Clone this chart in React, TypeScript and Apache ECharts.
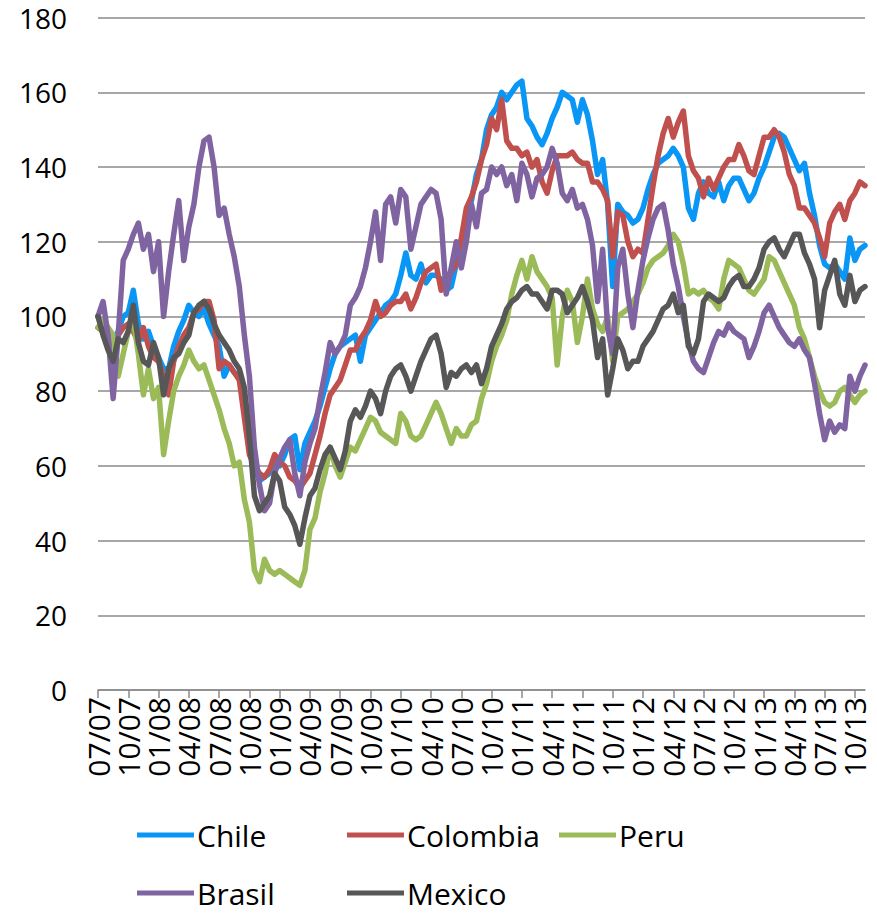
import React, { useEffect, useRef } from "react";
import * as echarts from "echarts";

// Semi-monthly sampling (1st and 16th of each month) from 2007-07-01 to 2013-11-01
const startYear = 2007;
const startMonth = 7;
const pointCount = 153;
const categories: string[] = Array.from({ length: pointCount }, (_, k) => {
  const m = startMonth - 1 + Math.floor(k / 2);
  const y = startYear + Math.floor(m / 12);
  const mo = (m % 12) + 1;
  const d = k % 2 === 0 ? 1 : 16;
  return `${y}-${String(mo).padStart(2, "0")}-${String(d).padStart(2, "0")}`;
});

const yTicks = { min: 0, max: 180, step: 20 };

const chile = [
  100, 97, 95, 93, 96, 100, 101, 107, 98, 94,
  96, 92, 89, 86, 86, 92, 96, 99, 103, 101,
  100, 102, 98, 95, 92, 84, 87, 85, 84, 79,
  69, 60, 56, 57, 58, 61, 60, 63, 67, 68,
  59, 66, 69, 72, 76, 81, 86, 90, 92, 93,
  94, 95, 88, 95, 97, 99, 101, 103, 104, 106,
  111, 117, 111, 110, 114, 109, 111, 111, 110, 107,
  108, 114, 120, 126, 131, 138, 142, 150, 154, 156,
  160, 158, 160, 162, 163, 153, 151, 148, 146, 149,
  153, 156, 160, 159, 158, 152, 158, 154, 147, 138,
  142, 130, 108, 130, 128, 127, 125, 126, 129, 134,
  138, 141, 142, 143, 145, 143, 140, 129, 126, 133,
  136, 133, 132, 136, 131, 135, 137, 137, 134, 131,
  133, 137, 140, 144, 148, 149, 148, 145, 142, 139,
  141, 133, 127, 119, 114, 113, 114, 112, 110, 121,
  115, 118, 119,
];

const colombia = [
  97, 96, 94, 92, 95, 97, 98, 96, 93, 97,
  92, 89, 88, 84, 79, 88, 92, 95, 97, 101,
  102, 104, 104, 99, 86, 88, 87, 85, 83, 73,
  63, 60, 58, 57, 59, 63, 61, 60, 57, 56,
  54, 56, 58, 63, 68, 74, 79, 81, 83, 87,
  91, 91, 94, 96, 99, 104, 100, 101, 103, 104,
  104, 106, 102, 105, 109, 112, 113, 114, 107, 110,
  112, 114, 121, 129, 132, 136, 142, 146, 153, 150,
  158, 147, 145, 145, 143, 144, 140, 142, 136, 133,
  139, 143, 143, 143, 144, 142, 141, 141, 136, 136,
  134, 131, 116, 128, 127, 120, 116, 118, 117, 126,
  135, 143, 149, 153, 148, 152, 155, 143, 139, 137,
  132, 137, 134, 137, 140, 142, 142, 146, 143, 139,
  138, 143, 148, 148, 150, 148, 144, 138, 135, 129,
  129, 127, 125, 121, 116, 125, 128, 130, 126, 131,
  133, 136, 135,
];

const peru = [
  97, 99, 97, 95, 84, 90, 96, 99, 90, 79,
  86, 78, 81, 63, 72, 80, 84, 87, 91, 88,
  86, 87, 83, 79, 75, 70, 66, 60, 61, 51,
  45, 32, 29, 35, 32, 31, 32, 31, 30, 29,
  28, 32, 43, 46, 53, 58, 65, 60, 57, 61,
  65, 64, 67, 70, 73, 72, 69, 68, 67, 66,
  74, 72, 68, 67, 68, 71, 74, 77, 74, 70,
  66, 70, 68, 68, 71, 72, 78, 82, 88, 92,
  95, 99, 106, 111, 115, 110, 116, 112, 110, 108,
  105, 87, 100, 107, 104, 93, 100, 110, 102, 98,
  96, 100, 88, 100, 101, 102, 104, 106, 109, 113,
  115, 116, 117, 119, 122, 120, 114, 106, 107, 106,
  107, 105, 104, 102, 110, 115, 114, 113, 110, 107,
  106, 108, 110, 116, 115, 112, 109, 106, 103, 97,
  94, 89, 84, 80, 77, 76, 77, 80, 81, 79,
  77, 79, 80,
];

const brasil = [
  100, 104, 95, 78, 95, 115, 118, 122, 125, 118,
  122, 112, 120, 100, 112, 122, 131, 115, 124, 130,
  140, 147, 148, 140, 127, 129, 122, 116, 108, 95,
  84, 65, 55, 48, 50, 58, 62, 65, 67, 58,
  52, 61, 66, 70, 78, 85, 93, 90, 92, 95,
  103, 105, 108, 113, 120, 128, 115, 130, 132, 125,
  134, 132, 118, 124, 130, 132, 134, 133, 126, 106,
  113, 120, 113, 120, 130, 124, 133, 134, 140, 138,
  140, 135, 138, 131, 141, 138, 132, 137, 138, 140,
  145, 141, 133, 131, 134, 129, 130, 126, 119, 104,
  118, 97, 90, 113, 118, 106, 97, 107, 115, 121,
  126, 129, 130, 123, 114, 108, 100, 93, 88, 86,
  85, 89, 93, 96, 95, 98, 96, 95, 94, 89,
  92, 96, 101, 103, 100, 97, 95, 93, 92, 94,
  91, 89, 82, 74, 67, 72, 69, 71, 70, 84,
  80, 84, 87,
];

const mexico = [
  100, 95, 91, 88, 94, 93, 96, 103, 93, 88,
  87, 93, 89, 79, 86, 89, 90, 93, 95, 101,
  103, 104, 102, 98, 95, 93, 91, 88, 86, 81,
  68, 52, 48, 50, 52, 58, 56, 49, 47, 44,
  39, 46, 52, 54, 59, 63, 65, 62, 59, 64,
  72, 75, 73, 76, 80, 78, 74, 80, 84, 86,
  87, 84, 80, 84, 88, 91, 94, 95, 90, 81,
  85, 84, 86, 87, 85, 87, 82, 86, 92, 95,
  98, 102, 104, 105, 107, 108, 106, 106, 104, 102,
  107, 107, 106, 101, 103, 105, 108, 104, 99, 89,
  94, 79, 86, 94, 91, 86, 88, 88, 92, 94,
  96, 99, 102, 103, 106, 101, 103, 92, 90, 94,
  104, 106, 105, 104, 105, 108, 110, 111, 108, 108,
  110, 113, 118, 120, 121, 118, 116, 119, 122, 122,
  117, 114, 110, 97, 107, 111, 115, 106, 103, 111,
  104, 107, 108,
];

const seriesNames = ["Chile", "Colombia", "Peru", "Brasil", "Mexico"];
const seriesData = [chile, colombia, peru, brasil, mexico];
const seriesColors = ["#0A96F5", "#C0504D", "#9BBB59", "#8064A2", "#575757"];

const FONT = "'Open Sans', 'Liberation Sans', sans-serif";
const AXIS_GRAY = "#8A8A8A";

const legendSlots = [
  { left: 137, top: 820 },
  { left: 347, top: 820 },
  { left: 559, top: 820 },
  { left: 137, top: 878 },
  { left: 347, top: 878 },
];

export default function App() {
  const ref = useRef<HTMLDivElement>(null);

  useEffect(() => {
    if (!ref.current) return;
    const chart = echarts.init(ref.current, undefined, { renderer: "svg" });
    const quarterly = (index: number) => index % 6 === 0;
    chart.setOption({
      animation: false,
      backgroundColor: "#ffffff",
      grid: { left: 98, right: 12, top: 17.6, bottom: 223, containLabel: false },
      xAxis: {
        type: "category",
        data: categories,
        boundaryGap: false,
        axisLine: { show: true, lineStyle: { color: AXIS_GRAY, width: 1.5 } },
        axisTick: {
          show: true,
          interval: quarterly,
          length: 8,
          lineStyle: { color: AXIS_GRAY, width: 1.5 },
        },
        axisLabel: {
          interval: quarterly,
          rotate: 90,
          margin: 7,
          fontSize: 30,
          color: "#000",
          fontFamily: FONT,
          showMinLabel: true,
          showMaxLabel: true,
          hideOverlap: false,
          formatter: (v: string) => `${v.slice(5, 7)}/${v.slice(2, 4)}`,
        },
        splitLine: { show: false },
      },
      yAxis: {
        type: "value",
        min: yTicks.min,
        max: yTicks.max,
        interval: yTicks.step,
        axisLine: { show: false },
        axisTick: { show: false },
        axisLabel: { fontSize: 28, color: "#000", margin: 31, fontFamily: FONT },
        splitLine: { show: true, lineStyle: { color: AXIS_GRAY, width: 1.5 } },
      },
      legend: seriesNames.map((name, i) => ({
        data: [name],
        left: legendSlots[i].left,
        top: legendSlots[i].top,
        padding: 0,
        icon: "rect",
        itemWidth: 57,
        itemHeight: 5,
        itemGap: 0,
        textStyle: { fontSize: 30, color: "#000", fontFamily: FONT, padding: [0, 0, 0, -2] },
        selectedMode: false,
      })),
      series: seriesNames.map((name, i) => ({
        name,
        type: "line",
        data: seriesData[i],
        showSymbol: false,
        symbol: "none",
        color: seriesColors[i],
        lineStyle: { width: 5.5, color: seriesColors[i], join: "round", cap: "round" },
      })),
    });
    return () => chart.dispose();
  }, []);

  return (
    <div
      ref={ref}
      style={{ position: "fixed", left: 0, top: 0, width: 877, height: 913, background: "#fff" }}
    />
  );
}
